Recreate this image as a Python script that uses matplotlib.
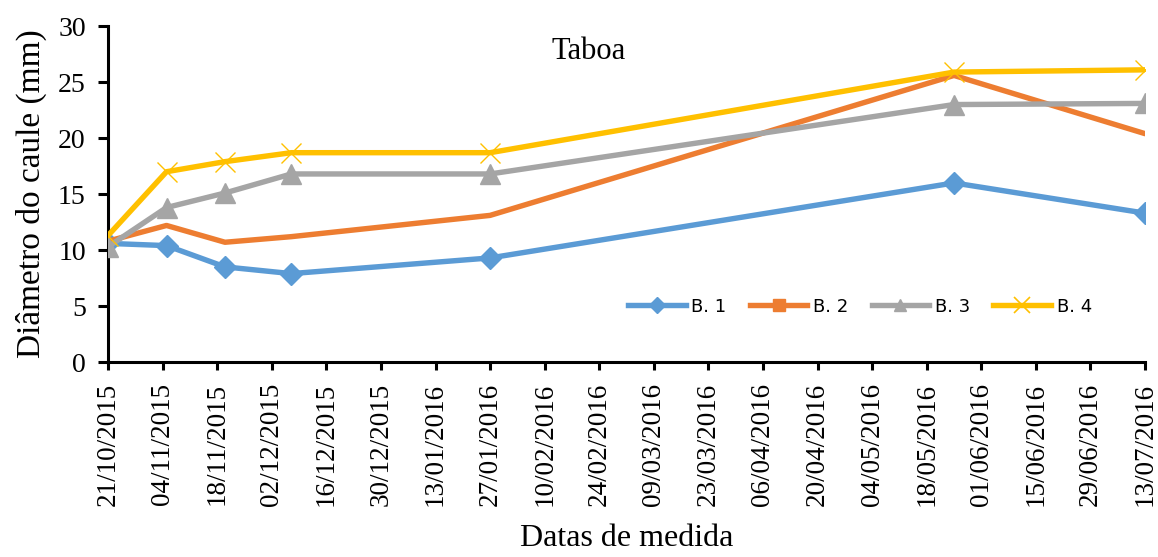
import numpy as np
import pandas as pd
import matplotlib
import matplotlib.pyplot as plt
import matplotlib.dates as mdates
from matplotlib.lines import Line2D

matplotlib.use('Agg')

# Datas das medições
datas = pd.to_datetime(["2015-10-21", "2015-11-05", "2015-11-20", "2015-12-07",
                        "2016-01-27", "2016-05-25", "2016-07-13"])

# Diâmetro do caule (mm) por bloco
b1 = [10.6, 10.4, 8.5, 7.9, 9.3, 16.0, 13.3]
b2 = [10.8, 12.2, 10.7, 11.2, 13.1, 25.6, 20.4]
b3 = [10.3, 13.8, 15.1, 16.8, 16.8, 23.0, 23.1]
b4 = [11.3, 17.0, 17.9, 18.7, 18.7, 25.9, 26.1]

nomes = ["B. 1", "B. 2", "B. 3", "B. 4"]
cores = ["#5B9BD5", "#ED7D31", "#A5A5A5", "#FFC000"]

serif = "Liberation Serif"
lw = 3.9

fig = plt.figure(figsize=(11.58, 5.57), dpi=100)
ax = fig.add_axes([0.0933, 0.350, 0.8955, 0.603])

ax.plot(datas, b1, color=cores[0], lw=lw, marker="D", ms=11,
        solid_capstyle="round", zorder=3)
ax.plot(datas, b2, color=cores[1], lw=lw, solid_capstyle="round", zorder=3)
ax.plot(datas, b3, color=cores[2], lw=lw, marker="^", ms=14,
        solid_capstyle="round", zorder=3)
ax.plot(datas, b4, color=cores[3], lw=lw, marker="x", ms=14, mew=1.0,
        solid_capstyle="round", zorder=3)

# Eixos
inicio = pd.Timestamp("2015-10-21")
fim = pd.Timestamp("2016-07-13")
ax.set_xlim(inicio, fim)
ax.set_ylim(0, 30)
ax.set_yticks(np.arange(0, 31, 5))
ax.set_xticks(pd.date_range(inicio, fim, freq="14D"))
ax.xaxis.set_major_formatter(mdates.DateFormatter("%d/%m/%Y"))

for s in ["top", "right"]:
    ax.spines[s].set_visible(False)
for s in ["left", "bottom"]:
    ax.spines[s].set_linewidth(2.2)
    ax.spines[s].set_color("black")

ax.tick_params(axis="y", direction="out", length=7, width=2.2,
               labelsize=20, pad=9)
ax.tick_params(axis="x", direction="out", length=6, width=2.2,
               labelsize=19.5, pad=9, rotation=90)
for lab in ax.get_xticklabels() + ax.get_yticklabels():
    lab.set_fontfamily(serif)

ax.set_ylabel("Diâmetro do caule (mm)", fontsize=24, fontfamily=serif, labelpad=8)
ax.set_xlabel("Datas de medida", fontsize=23, fontfamily=serif, labelpad=13)

ax.text(0.463, 0.925, "Taboa", transform=ax.transAxes, ha="center", va="center",
        fontsize=22, fontfamily=serif)

# Legenda
handles = [
    Line2D([], [], color=cores[0], lw=lw, marker="D", ms=8),
    Line2D([], [], color=cores[1], lw=lw, marker="s", ms=8),
    Line2D([], [], color=cores[2], lw=lw, marker="^", ms=9),
    Line2D([], [], color=cores[3], lw=lw, marker="x", ms=11, mew=1.2),
]
ax.legend(handles, nomes, loc="center", bbox_to_anchor=(0.725, 0.165), ncol=4,
          frameon=False, handlelength=3.2, columnspacing=1.3,
          handletextpad=0.3, prop={"family": "DejaVu Sans", "size": 13})

fig.savefig("out.png", dpi=100)
